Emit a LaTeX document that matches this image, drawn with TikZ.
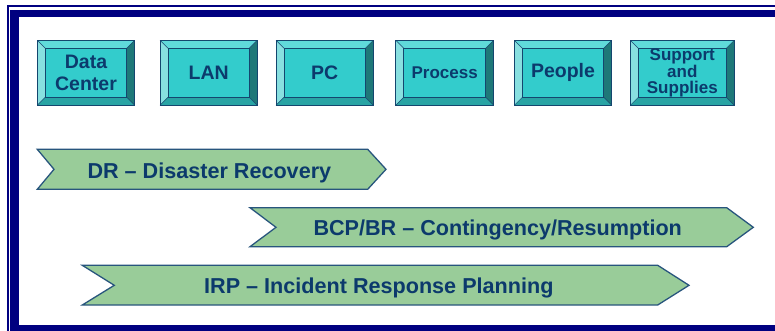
\documentclass[tikz,border=0pt]{standalone}
\usepackage{fontspec}
\setmainfont{Liberation Sans}
\definecolor{navy}{RGB}{0,0,128}
\definecolor{txt}{RGB}{12,58,108}
\definecolor{face}{RGB}{51,204,204}
\definecolor{btop}{RGB}{96,218,218}
\definecolor{bleft}{RGB}{136,224,224}
\definecolor{bbot}{RGB}{40,164,164}
\definecolor{bright}{RGB}{30,120,120}
\definecolor{bline}{RGB}{20,70,110}
\definecolor{grn}{RGB}{153,204,153}
\definecolor{gline}{RGB}{40,85,125}
\tikzset{
  boxtext/.style={text=txt, align=center, font=\bfseries\fontsize{19}{22}\selectfont, inner sep=0pt},
  bandtext/.style={text=txt, font=\bfseries\fontsize{21.6}{24}\selectfont, inner sep=0pt, anchor=west},
  bandshape/.style={fill=grn, draw=gline, line width=1.3pt, line join=miter},
  bevline/.style={draw=bline, line width=0.9pt}
}
% #1 name, #2 x1, #3 y1, #4 x2, #5 y2, #6 text, #7 font size, #8 baseline skip
\newcommand\bevbox[8]{%
  \fill[btop] (#2,#3) -- (#4,#3) -- ({#4-8},{#3+8}) -- ({#2+8},{#3+8}) -- cycle;
  \fill[bleft] (#2,#3) -- ({#2+8},{#3+8}) -- ({#2+8},{#5-8}) -- (#2,#5) -- cycle;
  \fill[bbot] (#2,#5) -- ({#2+8},{#5-8}) -- ({#4-8},{#5-8}) -- (#4,#5) -- cycle;
  \fill[bright] (#4,#3) -- (#4,#5) -- ({#4-8},{#5-8}) -- ({#4-8},{#3+8}) -- cycle;
  \fill[face] ({#2+8},{#3+8}) rectangle ({#4-8},{#5-8});
  \draw[bevline] (#2,#3) rectangle (#4,#5);
  \draw[bevline] ({#2+8},{#3+8}) rectangle ({#4-8},{#5-8});
  \draw[bevline, line width=0.5pt] (#2,#3) -- ({#2+8},{#3+8}) (#4,#3) -- ({#4-8},{#3+8})
     (#2,#5) -- ({#2+8},{#5-8}) (#4,#5) -- ({#4-8},{#5-8});
  \node[boxtext, font=\bfseries\fontsize{#7}{#8}\selectfont] (#1) at ({(#2+#4)/2},{(#3+#5)/2}) {#6};
}
\begin{document}
\begin{tikzpicture}[x=1pt,y=-1pt]
\useasboundingbox (0,0) rectangle (775,331);
% frame
\draw[navy, line width=2pt] (8,335) -- (8,6) -- (780,6);
\draw[navy, line width=9pt] (14.5,335) -- (14.5,13.5);
\draw[navy, line width=7pt] (10,13.5) -- (780,13.5);
\draw[navy, line width=7pt] (10,328.5) -- (780,328.5);
% boxes
\bevbox{dc}{37.3}{40.3}{134.7}{105.3}{Data\\Center}{19.5}{22.3}
\bevbox{lan}{160}{40.3}{257.3}{105.3}{LAN}{19.5}{22}
\bevbox{pc}{276}{40.3}{373.3}{105.3}{PC}{19.5}{22}
\bevbox{proc}{395.7}{40.3}{493.7}{105.3}{Process}{17}{19}
\bevbox{ppl}{514.3}{40.3}{611.7}{105.3}{People}{19.5}{22}
\bevbox{sup}{630.3}{40.3}{734.3}{105.3}{Support\\and\\Supplies}{17}{15.8}
% bands
\draw[bandshape] (37.3,149.3) -- (367.7,149.3) -- (386,169.3) -- (367.7,189.3) -- (37.3,189.3) -- (54,169.3) -- cycle;
\node[bandtext] (dr) at (87.3,172.5) {DR -- Disaster Recovery};
\draw[bandshape] (250,207.7) -- (726.7,207.7) -- (753.3,227.3) -- (726.7,246.7) -- (250,246.7) -- (276,227.3) -- cycle;
\node[bandtext] (bcp) at (313.3,230) {BCP/BR -- Contingency/Resumption};
\draw[bandshape] (82.3,265.3) -- (657.7,265.3) -- (689,285.3) -- (657.7,305) -- (82.3,305) -- (114.3,285.3) -- cycle;
\node[bandtext] (irp) at (204,288) {IRP -- Incident Response Planning};
\end{tikzpicture}
\end{document}
